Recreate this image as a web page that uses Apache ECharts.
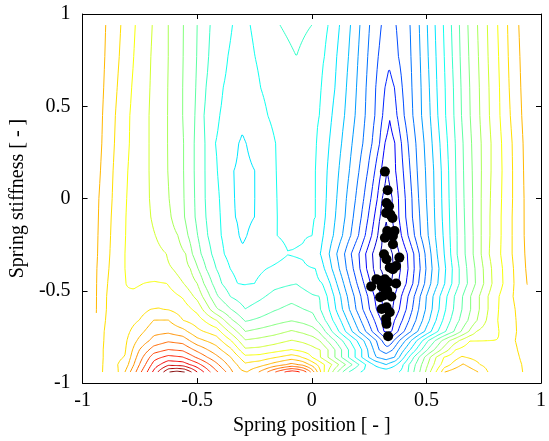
<!DOCTYPE html>
<html>
<head>
<meta charset="utf-8">
<script src="https://cdn.jsdelivr.net/npm/echarts@6/dist/echarts.min.js"></script>
<style>
  html, body { margin: 0; padding: 0; background: #fff; }
  #chart { width: 549px; height: 441px; }
</style>
</head>
<body>
<div id="chart"></div>
<script>
// Contour levels of the cost surface (26 iso-lines, lowest = deepest blue)
const contourLevels = [0,1,2,3,4,5,6,7,8,9,10,11,12,13,14,15,16,17,18,19,20,21,22,23,24,25];

// Spring stiffness values of the sampled profile rows (bottom to top)
const rowY = [-0.94,-0.9,-0.86,-0.82,-0.77,-0.72,-0.66,-0.6,-0.53,-0.46,-0.38,-0.3,-0.2,-0.1,0,0.15,0.3,0.45,0.6,0.77,0.94];

// Surface level along each row: flat pairs [spring position, level, ...]
const rowProfiles = [
  [-0.940,16.4,-0.913,16,-0.882,15.6,-0.843,16,-0.815,17,-0.792,18,-0.767,19,-0.744,20,-0.718,21,-0.695,22,-0.672,23,-0.647,24,-0.622,25,-0.588,25.3,-0.555,25,-0.525,24,-0.500,23,-0.471,22,-0.443,21,-0.410,20,-0.374,19,-0.345,18,-0.311,17.2,-0.282,17.0,-0.239,17.8,-0.200,18.8,-0.170,19.7,-0.140,20.5,-0.110,21.2,-0.085,21.5,-0.060,21.2,-0.035,20.5,-0.015,19.6,0.000,18.7,0.013,17.8,0.027,16.8,0.042,15.8,0.057,14.8,0.075,13.8,0.095,12.8,0.117,11.8,0.140,10.8,0.165,9.9,0.195,9.2,0.223,8.9,0.324,8.65,0.374,8.9,0.395,9.2,0.420,10,0.445,11,0.471,12,0.496,13,0.517,14,0.542,15,0.566,16,0.580,17,0.655,18.0,0.726,17,0.768,16,0.824,15.3,0.920,16,0.940,16.25],
  [-0.940,16.5,-0.912,16,-0.878,15.6,-0.815,16.4,-0.752,19.0,-0.689,21.4,-0.626,22.8,-0.563,22.6,-0.500,21.4,-0.416,19.25,-0.353,17.6,-0.290,16.2,-0.227,16.6,-0.164,17.4,-0.088,18.3,-0.040,17.8,0.004,16.6,0.055,15,0.088,14,0.118,13,0.147,12,0.176,11,0.206,10,0.235,9,0.269,8,0.324,7.0,0.370,8,0.399,9,0.424,10,0.452,11,0.479,12,0.506,13,0.532,14,0.563,15,0.605,16,0.660,17.1,0.735,16,0.824,15.15,0.916,16,0.940,16.3],
  [-0.940,16.6,-0.910,16,-0.878,15.6,-0.815,16.05,-0.752,18.5,-0.689,20.6,-0.626,21.3,-0.563,21.05,-0.500,19.85,-0.416,18.25,-0.353,17.0,-0.290,15.3,-0.227,15.4,-0.164,15.9,-0.088,16.5,-0.055,16.2,-0.017,15.5,0.038,14,0.071,13,0.101,12,0.130,11,0.160,10,0.189,9,0.218,8,0.248,7,0.282,6,0.324,5.5,0.361,6,0.382,7,0.403,8,0.424,9,0.445,10,0.468,11,0.492,12,0.517,13,0.542,14,0.576,15,0.655,16.1,0.752,15.5,0.819,15.05,0.906,16,0.940,16.35],
  [-0.940,16.7,-0.910,16,-0.878,15.6,-0.815,15.9,-0.752,18.0,-0.689,19.5,-0.626,20.05,-0.563,19.85,-0.500,18.75,-0.416,17.4,-0.353,16.2,-0.290,14.2,-0.227,14.3,-0.164,14.6,-0.088,15.05,-0.038,14.7,0.004,14.3,0.038,14,0.071,13,0.101,12,0.130,11,0.160,10,0.189,9,0.218,8,0.244,7,0.269,6,0.294,5,0.324,4.5,0.353,5,0.378,6,0.403,7,0.429,8,0.454,9,0.479,10,0.504,11,0.534,12,0.563,13,0.597,14,0.626,15,0.689,15.6,0.761,15.3,0.824,15.05,0.897,16,0.940,16.4],
  [-0.940,16.8,-0.908,16,-0.878,15.6,-0.815,15.8,-0.752,17.25,-0.689,18.35,-0.626,18.85,-0.563,18.6,-0.500,17.35,-0.416,16.5,-0.353,15.05,-0.290,13.1,-0.227,13.3,-0.164,13.6,-0.088,14.05,-0.038,13.8,0.004,13.5,0.034,13,0.067,12,0.101,11,0.134,10,0.166,9,0.197,8,0.227,7,0.254,6,0.282,5,0.307,4,0.332,2.95,0.357,4,0.382,5,0.408,6,0.433,7,0.458,8,0.483,9,0.508,10,0.538,11,0.567,12,0.601,13,0.643,14,0.689,14.97,0.819,15.02,0.887,16,0.940,16.4],
  [-0.940,16.85,-0.906,16,-0.878,15.62,-0.815,15.65,-0.752,16.65,-0.689,17.7,-0.626,17.8,-0.563,17.35,-0.500,16.25,-0.416,15.5,-0.353,13.7,-0.290,12.0,-0.227,12.3,-0.164,12.6,-0.088,13.1,-0.038,12.8,0.004,12.4,0.029,12,0.059,11,0.088,10,0.118,9,0.147,8,0.176,7,0.206,6,0.235,5,0.263,4,0.290,3,0.315,2,0.332,1.85,0.349,2,0.376,3,0.403,4,0.433,5,0.462,6,0.492,7,0.521,8,0.550,9,0.584,10,0.620,11,0.651,12,0.685,13,0.718,14,0.765,14.5,0.817,15,0.893,16,0.940,16.45],
  [-0.940,16.98,-0.900,16,-0.878,15.65,-0.815,15.45,-0.752,16.02,-0.689,17.02,-0.626,17.03,-0.563,16.02,-0.500,15.5,-0.416,14.02,-0.353,12.2,-0.290,10.9,-0.227,11.2,-0.164,11.6,-0.088,11.95,-0.038,11.7,0.004,11.4,0.021,11,0.059,10,0.092,9,0.126,8,0.155,7,0.185,6,0.214,5,0.244,4,0.273,3,0.303,2,0.332,1.05,0.361,2,0.395,3,0.424,4,0.454,5,0.483,6,0.513,7,0.542,8,0.571,9,0.605,10,0.643,11,0.681,12,0.721,13,0.761,14,0.811,15,0.891,16,0.940,16.5],
  [-0.940,17.01,-0.897,16,-0.815,15.25,-0.752,15.55,-0.703,16.0,-0.668,16.05,-0.626,15.95,-0.563,15.55,-0.500,14.7,-0.416,12.15,-0.353,11.02,-0.290,10.02,-0.227,10.45,-0.164,10.9,-0.088,11.3,-0.038,11.02,0.004,10.8,0.038,10,0.076,9,0.105,8,0.134,7,0.164,6,0.193,5,0.223,4,0.252,3,0.282,2,0.311,1,0.332,0.55,0.353,1,0.382,2,0.412,3,0.439,4,0.466,5,0.496,6,0.525,7,0.555,8,0.584,9,0.618,10,0.655,11,0.693,12,0.731,13,0.769,14,0.815,15,0.887,16,0.940,16.6],
  [-0.940,17.02,-0.895,16,-0.815,15.05,-0.752,15.3,-0.689,15.6,-0.626,15.45,-0.563,14.9,-0.500,13.7,-0.416,11.15,-0.353,9.95,-0.290,9.4,-0.227,9.8,-0.164,10.3,-0.088,10.65,-0.038,10.4,0.004,10.1,0.034,10,0.067,9,0.097,8,0.126,7,0.155,6,0.185,5,0.214,4,0.244,3,0.273,2,0.303,1,0.332,0.2,0.361,1,0.391,2,0.420,3,0.447,4,0.473,5,0.500,6,0.529,7,0.559,8,0.590,9,0.622,10,0.658,11,0.693,12,0.731,13,0.769,14,0.817,15,0.878,16,0.940,16.8],
  [-0.940,17.03,-0.891,16,-0.811,15,-0.777,14.85,-0.734,15,-0.685,15.1,-0.632,15,-0.559,14,-0.500,13,-0.471,12,-0.434,11,-0.393,10,-0.324,9,-0.298,8.95,-0.250,9,-0.164,9.7,-0.067,9.98,0.046,9,0.080,8,0.109,7,0.139,6,0.168,5,0.197,4,0.227,3,0.256,2,0.286,1,0.315,0,0.332,-0.15,0.349,0,0.378,1,0.412,2,0.441,3,0.466,4,0.492,5,0.519,6,0.550,7,0.580,8,0.611,9,0.643,10,0.679,11,0.714,12,0.750,13,0.786,14,0.834,15,0.882,16,0.940,17.02],
  [-0.940,17.04,-0.937,17,-0.885,16,-0.815,15,-0.607,14,-0.530,13,-0.496,12,-0.461,11,-0.417,10,-0.356,9,-0.303,8.45,-0.197,9,-0.101,9.3,0.017,9,0.055,8,0.088,7,0.120,6,0.151,5,0.181,4,0.210,3,0.239,2,0.269,1,0.298,0,0.328,-0.3,0.357,0,0.387,1,0.420,2,0.447,3,0.473,4,0.498,5,0.525,6,0.555,7,0.584,8,0.613,9,0.643,10,0.676,11,0.712,12,0.748,13,0.784,14,0.832,15,0.880,16,0.933,17,0.940,17.1],
  [-0.940,17.05,-0.934,17,-0.881,16,-0.815,15,-0.634,14,-0.550,13,-0.521,12,-0.483,11,-0.437,10,-0.382,9,-0.307,8.1,-0.105,8.98,-0.038,8.9,0.038,8,0.076,7,0.109,6,0.143,5,0.172,4,0.206,3,0.235,2,0.265,1,0.298,0,0.324,-0.3,0.353,0,0.382,1,0.417,2,0.445,3,0.469,4,0.494,5,0.520,6,0.547,7,0.578,8,0.606,9,0.634,10,0.669,11,0.704,12,0.739,13,0.774,14,0.824,15,0.874,16,0.929,17,0.940,17.1],
  [-0.940,17.15,-0.933,17,-0.878,16,-0.813,15,-0.682,14,-0.584,13,-0.540,12,-0.498,11,-0.454,10,-0.395,9,-0.318,8,-0.300,7.9,-0.283,8,-0.152,9,-0.084,9.15,0.004,9,0.050,8,0.094,7,0.134,6,0.170,5,0.204,4,0.233,3,0.261,2,0.288,1,0.307,0,0.324,-0.25,0.340,0,0.361,1,0.391,2,0.420,3,0.448,4,0.475,5,0.508,6,0.539,7,0.573,8,0.603,9,0.634,10,0.668,11,0.704,12,0.739,13,0.777,14,0.826,15,0.874,16,0.926,17,0.940,17.15],
  [-0.940,17.2,-0.931,17,-0.875,16,-0.811,15,-0.702,14,-0.613,13,-0.555,12,-0.509,11,-0.462,10,-0.399,9,-0.334,8,-0.294,7.8,-0.250,8,-0.151,9,-0.080,9.25,0.017,9,0.059,8,0.103,7,0.145,6,0.181,5,0.216,4,0.246,3,0.273,2,0.298,1,0.324,0.05,0.349,1,0.380,2,0.410,3,0.439,4,0.471,5,0.504,6,0.536,7,0.569,8,0.601,9,0.632,10,0.666,11,0.702,12,0.739,13,0.777,14,0.826,15,0.874,16,0.926,17,0.940,17.2],
  [-0.940,17.25,-0.929,17,-0.871,16,-0.808,15,-0.708,14,-0.622,13,-0.557,12,-0.511,11,-0.465,10,-0.403,9,-0.338,8,-0.294,7.75,-0.248,8,-0.153,9,-0.076,9.35,0.017,9,0.063,8,0.109,7,0.151,6,0.191,5,0.227,4,0.258,3,0.286,2,0.307,1,0.328,0.4,0.351,1,0.378,2,0.408,3,0.437,4,0.466,5,0.500,6,0.534,7,0.567,8,0.599,9,0.630,10,0.664,11,0.702,12,0.739,13,0.779,14,0.828,15,0.876,16,0.926,17,0.940,17.25],
  [-0.940,17.35,-0.922,17,-0.867,16,-0.803,15,-0.710,14,-0.628,13,-0.559,12,-0.513,11,-0.466,10,-0.412,9,-0.340,8,-0.294,7.8,-0.248,8,-0.155,9,-0.071,9.45,0.017,9,0.067,8,0.118,7,0.164,6,0.206,5,0.244,4,0.275,3,0.303,2,0.328,1.0,0.366,2,0.399,3,0.429,4,0.460,5,0.496,6,0.532,7,0.565,8,0.597,9,0.628,10,0.662,11,0.700,12,0.740,13,0.782,14,0.830,15,0.876,16,0.924,17,0.940,17.35],
  [-0.940,17.45,-0.916,17,-0.861,16,-0.796,15,-0.710,14,-0.629,13,-0.559,12,-0.513,11,-0.466,10,-0.420,9,-0.319,8,-0.303,7.92,-0.286,8,-0.158,9,-0.071,9.55,0.021,9,0.076,8,0.130,7,0.176,6,0.223,5,0.263,4,0.296,3,0.319,2,0.340,1.55,0.363,2,0.391,3,0.420,4,0.454,5,0.490,6,0.525,7,0.559,8,0.592,9,0.626,10,0.660,11,0.697,12,0.739,13,0.782,14,0.828,15,0.874,16,0.922,17,0.940,17.45],
  [-0.940,17.55,-0.913,17,-0.857,16,-0.794,15,-0.710,14,-0.629,13,-0.563,12,-0.510,11,-0.470,10,-0.402,9,-0.303,8.15,-0.192,9,-0.071,9.65,0.034,9,0.088,8,0.143,7,0.189,6,0.233,5,0.275,4,0.309,3,0.340,2.1,0.372,3,0.403,4,0.441,5,0.479,6,0.517,7,0.550,8,0.584,9,0.620,10,0.653,11,0.691,12,0.733,13,0.775,14,0.821,15,0.866,16,0.916,17,0.940,17.55],
  [-0.940,17.6,-0.908,17,-0.849,16,-0.786,15,-0.706,14,-0.628,13,-0.563,12,-0.506,11,-0.462,10,-0.387,9,-0.307,8.4,-0.223,9,-0.080,9.8,0.042,9,0.101,8,0.151,7,0.195,6,0.237,5,0.279,4,0.319,3,0.340,2.65,0.361,3,0.395,4,0.437,5,0.477,6,0.513,7,0.546,8,0.582,9,0.618,10,0.651,11,0.689,12,0.731,13,0.773,14,0.819,15,0.861,16,0.912,17,0.940,17.6],
  [-0.940,17.65,-0.903,17,-0.840,16,-0.777,15,-0.702,14,-0.626,13,-0.561,12,-0.502,11,-0.450,10,-0.366,9,-0.307,8.5,-0.248,9,-0.067,10.0,0.055,9,0.109,8,0.160,7,0.202,6,0.244,5,0.290,4,0.336,3.2,0.378,4,0.433,5,0.473,6,0.508,7,0.542,8,0.578,9,0.613,10,0.647,11,0.685,12,0.727,13,0.769,14,0.815,15,0.857,16,0.908,17,0.940,17.65],
  [-0.940,17.6,-0.899,17,-0.833,16,-0.770,15,-0.696,14,-0.626,13,-0.560,12,-0.500,11,-0.444,10,-0.346,9,-0.307,8.6,-0.269,9,-0.139,10,-0.067,10.35,0.000,10,0.071,9,0.121,8,0.169,7,0.210,6,0.252,5,0.303,4,0.336,3.6,0.368,4,0.429,5,0.469,6,0.504,7,0.538,8,0.574,9,0.609,10,0.644,11,0.681,12,0.723,13,0.766,14,0.811,15,0.854,16,0.903,17,0.940,17.7]
];

// Optimiser samples (spring position, spring stiffness)
const samplePoints = [
  [0.319,0.146],[0.331,0.045],[0.326,-0.024],[0.337,-0.042],[0.324,-0.078],[0.343,-0.087],
  [0.352,-0.105],[0.329,-0.176],[0.361,-0.176],[0.319,-0.212],[0.354,-0.203],[0.354,-0.248],
  [0.315,-0.302],[0.326,-0.329],[0.382,-0.320],[0.368,-0.365],[0.340,-0.374],[0.354,-0.383],
  [0.282,-0.437],[0.298,-0.445],[0.319,-0.437],[0.333,-0.454],[0.368,-0.460],[0.259,-0.476],
  [0.305,-0.477],[0.329,-0.499],[0.298,-0.535],[0.347,-0.531],[0.312,-0.526],[0.326,-0.589],
  [0.305,-0.598],[0.340,-0.616],[0.324,-0.652],[0.326,-0.679],[0.333,-0.746]
];

const axisMin = -1, axisMax = 1, tickStep = 0.5;
const xTitle = 'Spring position [ - ]';
const yTitle = 'Spring stiffness [ - ]';

// ---- sample each row profile on a fine position grid ----
const X0 = rowProfiles[0][0];
const X1 = rowProfiles[0][rowProfiles[0].length - 2];
const NX = 377;
const gridX = Array.from({ length: NX }, (_, i) => X0 + (X1 - X0) * i / (NX - 1));

function profileAt(knots, x) {
  const n = knots.length / 2;
  if (x <= knots[0]) return knots[1];
  for (let k = 1; k < n; k++) {
    const xa = knots[2 * k - 2], xb = knots[2 * k];
    if (x <= xb) {
      const t = (x - xa) / (xb - xa);
      return knots[2 * k - 1] + t * (knots[2 * k + 1] - knots[2 * k - 1]);
    }
  }
  return knots[2 * n - 1];
}
const field = rowProfiles.map(k => gridX.map(x => profileAt(k, x)));

// ---- marching squares on the rectilinear grid ----
function isoSegments(L) {
  const segs = [];
  const X = gridX, Y = rowY;
  for (let j = 0; j < Y.length - 1; j++) {
    for (let i = 0; i < X.length - 1; i++) {
      const a = field[j][i], b = field[j][i + 1], c = field[j + 1][i + 1], d = field[j + 1][i];
      const A = a >= L, B = b >= L, C = c >= L, D = d >= L;
      const e = {};
      if (A !== B) e[0] = ['h' + i + '_' + j, [X[i] + (X[i + 1] - X[i]) * (L - a) / (b - a), Y[j]]];
      if (B !== C) e[1] = ['v' + (i + 1) + '_' + j, [X[i + 1], Y[j] + (Y[j + 1] - Y[j]) * (L - b) / (c - b)]];
      if (D !== C) e[2] = ['h' + i + '_' + (j + 1), [X[i] + (X[i + 1] - X[i]) * (L - d) / (c - d), Y[j + 1]]];
      if (A !== D) e[3] = ['v' + i + '_' + j, [X[i], Y[j] + (Y[j + 1] - Y[j]) * (L - a) / (d - a)]];
      const ks = Object.keys(e);
      if (ks.length === 2) segs.push([e[ks[0]], e[ks[1]]]);
      else if (ks.length === 4) {
        const mid = (a + b + c + d) / 4 >= L;
        if (mid === A) { segs.push([e[0], e[1]]); segs.push([e[2], e[3]]); }
        else { segs.push([e[0], e[3]]); segs.push([e[1], e[2]]); }
      }
    }
  }
  return segs;
}

function chainSegments(segs) {
  const adj = new Map();
  segs.forEach((s, idx) => {
    for (const end of [0, 1]) {
      const k = s[end][0];
      if (!adj.has(k)) adj.set(k, []);
      adj.get(k).push(idx);
    }
  });
  const used = new Array(segs.length).fill(false);
  const out = [];
  function walk(startIdx, startKey) {
    const pts = [];
    let idx = startIdx, key = startKey;
    const s0 = segs[idx];
    pts.push(s0[0][0] === key ? s0[0][1] : s0[1][1]);
    while (idx !== undefined && !used[idx]) {
      used[idx] = true;
      const s = segs[idx];
      const to = s[0][0] === key ? 1 : 0;
      key = s[to][0];
      pts.push(s[to][1]);
      idx = adj.get(key).find(t => !used[t]);
    }
    return pts;
  }
  for (const [k, list] of adj) {
    if (list.length === 1 && !used[list[0]]) out.push(walk(list[0], k));
  }
  for (let i = 0; i < segs.length; i++) if (!used[i]) out.push(walk(i, segs[i][0][0]));
  return out;
}

// jet colour map
function jet(t) {
  const c = v => Math.round(255 * Math.max(0, Math.min(1, v)));
  return 'rgb(' + c(1.5 - Math.abs(4 * t - 3)) + ',' + c(1.5 - Math.abs(4 * t - 2)) + ',' + c(1.5 - Math.abs(4 * t - 1)) + ')';
}

const lvMin = contourLevels[0], lvMax = contourLevels[contourLevels.length - 1];
const contourSeries = contourLevels.map(L => ({
  type: 'lines',
  coordinateSystem: 'cartesian2d',
  polyline: true,
  silent: true,
  animation: false,
  lineStyle: { color: jet((L - lvMin + 1.2) / (lvMax - lvMin + 1.2)), width: 1, opacity: 1 },
  data: chainSegments(isoSegments(L)).map(p => ({ coords: p }))
}));

const font = 'Liberation Serif, Times New Roman, serif';
const axisCommon = {
  type: 'value', min: axisMin, max: axisMax, interval: tickStep,
  axisLine: { show: true, onZero: false, lineStyle: { color: '#000', width: 1 } },
  axisTick: { show: true, inside: true, length: 5, lineStyle: { color: '#000', width: 1 } },
  splitLine: { show: false }
};

const chart = echarts.init(document.getElementById('chart'), null, { renderer: 'canvas' });
chart.setOption({
  animation: false,
  backgroundColor: '#fff',
  grid: { left: 71, top: 14, right: 2, bottom: 55, containLabel: false },
  xAxis: [
    Object.assign({}, axisCommon, {
      position: 'bottom',
      axisLabel: { color: '#000', fontFamily: font, fontSize: 20, margin: 8 },
      name: xTitle, nameLocation: 'middle', nameGap: 30,
      nameTextStyle: { color: '#000', fontFamily: font, fontSize: 20 }
    }),
    Object.assign({}, axisCommon, { position: 'top', axisLabel: { show: false } })
  ],
  yAxis: [
    Object.assign({}, axisCommon, {
      position: 'left',
      axisLabel: { color: '#000', fontFamily: font, fontSize: 20, margin: 12 },
      name: yTitle, nameLocation: 'middle', nameGap: 41,
      nameTextStyle: { color: '#000', fontFamily: font, fontSize: 20 }
    }),
    Object.assign({}, axisCommon, { position: 'right', axisLabel: { show: false } })
  ],
  series: contourSeries.concat([{
    type: 'scatter',
    data: samplePoints,
    symbol: 'circle',
    symbolSize: 10,
    itemStyle: { color: '#000', opacity: 1 },
    z: 10,
    silent: true,
    animation: false
  }])
});
</script>
</body>
</html>
